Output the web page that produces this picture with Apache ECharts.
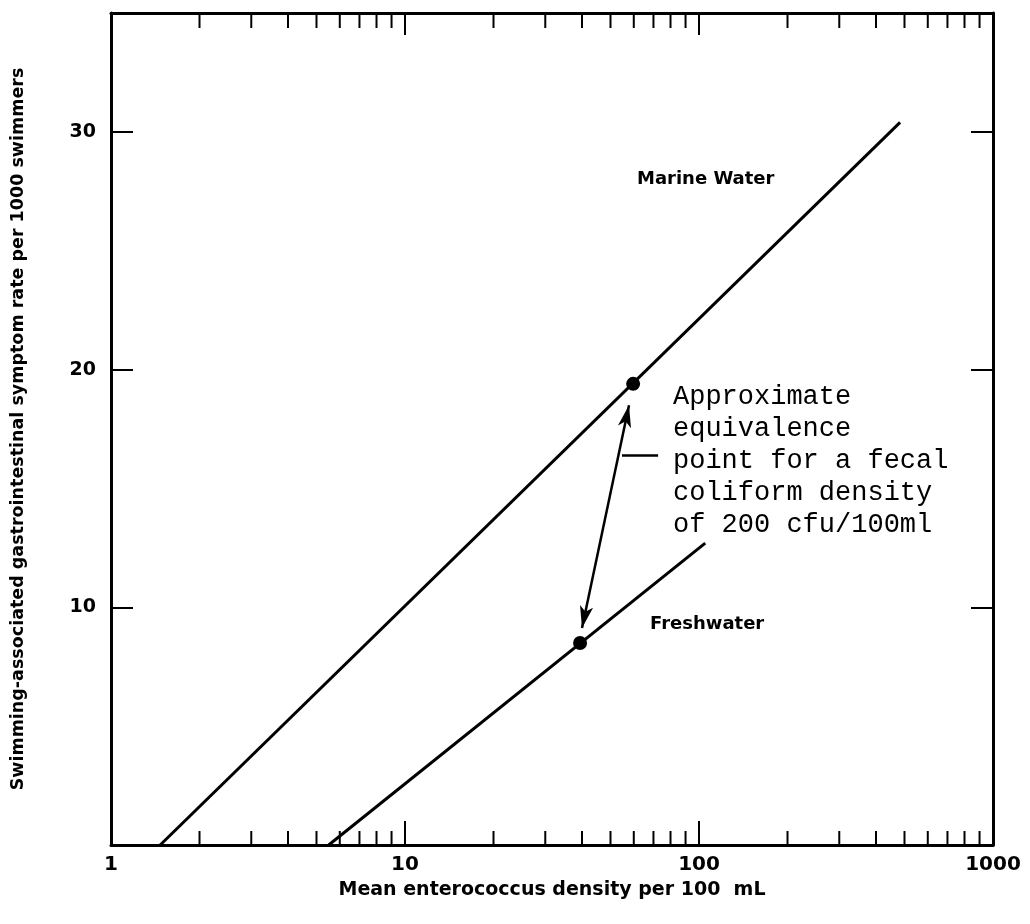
<!DOCTYPE html>
<html>
<head>
<meta charset="utf-8">
<script src="https://cdn.jsdelivr.net/npm/echarts@6/dist/echarts.min.js"></script>
<style>html,body{margin:0;padding:0;background:#fff;}#c{width:1030px;height:924px;}</style>
</head>
<body>
<div id="c"></div>
<script>
// ---- data ----
const xTickLabels = ['1', '10', '100', '1000'];
const yTickValues = [10, 20, 30];
const minorTicks = [2,3,4,5,6,7,8,9,20,30,40,50,60,70,80,90,200,300,400,500,600,700,800,900];
const marineLine = [[1.47, 0], [483, 30.4]];
const freshLine = [[5.5, 0], [105, 12.7]];
const equivalencePoints = [[59.7, 19.4], [39.4, 8.5]];
const arrowFrom = [57.8, 18.5];
const arrowTo = [40.0, 9.13];
const leaderLine = [[54.7, 16.4], [72.6, 16.4]];
const annotationText = 'Approximate\nequivalence\npoint for a fecal\ncoliform density\nof 200 cfu/100ml';

const chart = echarts.init(document.getElementById('c'), null, {renderer: 'canvas'});
const LBL = {fontFamily: 'DejaVu Sans', fontWeight: 'bold', color: '#000'};
const axisLine = {show: true, onZero: false, lineStyle: {color: '#000', width: 3}};

chart.setOption({
  animation: false,
  backgroundColor: '#fff',
  grid: {left: 111, right: 37, top: 13, bottom: 79, containLabel: false},
  xAxis: [{
    type: 'log', logBase: 10, min: 1, max: 1000, position: 'bottom',
    axisLine: axisLine,
    axisTick: {show: true, inside: true, length: 24, lineStyle: {color: '#000', width: 2}},
    minorTick: {show: false},
    splitLine: {show: false},
    axisLabel: Object.assign({fontSize: 20, margin: 10,
      formatter: v => xTickLabels.indexOf(String(Math.round(v))) >= 0 ? String(Math.round(v)) : ''}, LBL),
    name: 'Mean enterococcus density per 100  mL',
    nameLocation: 'middle', nameGap: 36,
    nameTextStyle: Object.assign({fontSize: 19}, LBL)
  }, {
    type: 'log', logBase: 10, min: 1, max: 1000, position: 'top',
    axisLine: axisLine,
    axisTick: {show: true, inside: true, length: 22, lineStyle: {color: '#000', width: 2}},
    splitLine: {show: false},
    axisLabel: {show: false}
  }],
  yAxis: [{
    type: 'value', min: 0, max: 35, interval: 10, position: 'left',
    axisLine: axisLine,
    axisTick: {show: true, inside: true, length: 22, lineStyle: {color: '#000', width: 2}},
    splitLine: {show: false},
    axisLabel: Object.assign({fontSize: 19, margin: 15,
      formatter: v => yTickValues.indexOf(v) >= 0 ? String(v) : ''}, LBL),
    name: 'Swimming-associated gastrointestinal symptom rate per 1000 swimmers',
    nameLocation: 'middle', nameGap: 84, nameRotate: 90,
    nameTextStyle: Object.assign({fontSize: 17.5}, LBL)
  }, {
    type: 'value', min: 0, max: 35, interval: 10, position: 'right',
    axisLine: axisLine,
    axisTick: {show: true, inside: true, length: 22, lineStyle: {color: '#000', width: 2}},
    splitLine: {show: false},
    axisLabel: {show: false}
  }],
  series: [{
    type: 'custom', xAxisIndex: 0, yAxisIndex: 0, silent: true, clip: false,
    data: minorTicks.map(v => [v]),
    encode: {x: 0},
    renderItem: function (params, api) {
      const v = api.value(0);
      const b = api.coord([v, 0]);
      const t = api.coord([v, 35]);
      const st = {stroke: '#000', lineWidth: 2};
      return {type: 'group', children: [
        {type: 'line', shape: {x1: b[0], y1: b[1], x2: b[0], y2: b[1] - 14}, style: st},
        {type: 'line', shape: {x1: t[0], y1: t[1], x2: t[0], y2: t[1] + 15}, style: st}
      ]};
    }
  }, {
    name: 'Marine Water', type: 'line', data: marineLine, showSymbol: false, silent: true,
    lineStyle: {color: '#000', width: 3}
  }, {
    name: 'Freshwater', type: 'line', data: freshLine, showSymbol: false, silent: true,
    lineStyle: {color: '#000', width: 3},
    markLine: {
      silent: true, animation: false,
      label: {show: false},
      emphasis: {disabled: true},
      data: [
        [{coord: arrowFrom, symbol: 'arrow', symbolSize: [10, 22]}, {coord: arrowTo, symbol: 'arrow', symbolSize: [10, 22]}],
        [{coord: leaderLine[0], symbol: 'none'}, {coord: leaderLine[1], symbol: 'none'}]
      ],
      lineStyle: {color: '#000', width: 2.5, type: 'solid', opacity: 1},
      itemStyle: {color: '#000'}
    }
  }, {
    name: 'Equivalence', type: 'scatter', data: equivalencePoints, silent: true,
    symbol: 'circle', symbolSize: 14, itemStyle: {color: '#000', opacity: 1}
  }],
  graphic: [
    {type: 'text', left: 637, top: 170, style: {text: 'Marine Water', font: 'bold 18px "DejaVu Sans"', fill: '#000'}},
    {type: 'text', left: 650, top: 615, style: {text: 'Freshwater', font: 'bold 18px "DejaVu Sans"', fill: '#000'}},
    {type: 'text', left: 673, top: 381, style: {text: annotationText, font: '27px "Liberation Mono"', lineHeight: 32, fill: '#000'}}
  ]
});
</script>
</body>
</html>
